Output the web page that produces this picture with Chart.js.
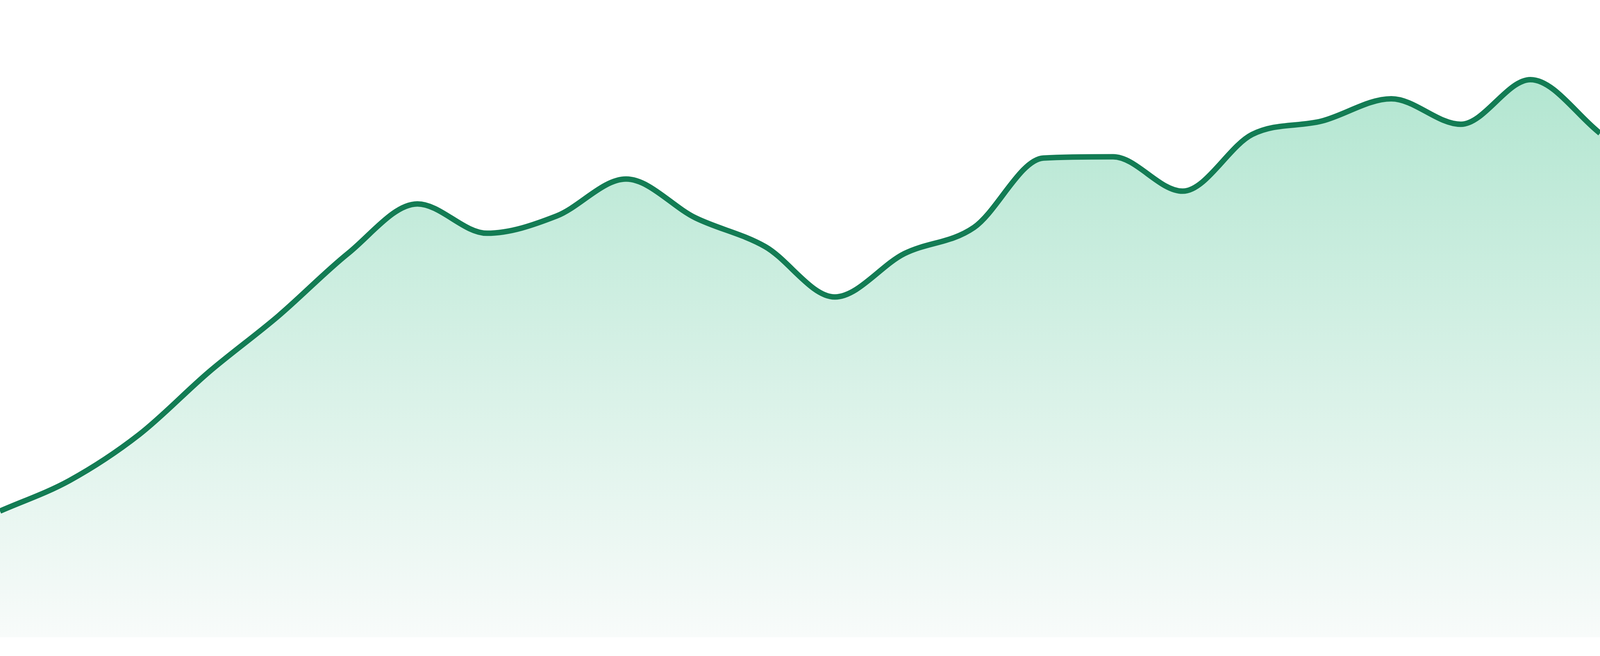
<!DOCTYPE html>
<html>
<head>
<meta charset="utf-8">
<script src="https://cdn.jsdelivr.net/npm/chart.js@4/dist/chart.umd.min.js"></script>
<style>
    html, body { margin: 0; padding: 0; background: #ffffff; overflow: hidden; }
    .wrap { position: relative; width: 100vw; height: 100vh; }
</style>
</head>
<body>
<div class="wrap"><canvas id="trend"></canvas></div>
<script>
const labels = ['D1', 'D2', 'D3', 'D4', 'D5', 'D6', 'D7', 'D8', 'D9', 'D10', 'D11', 'D12',
                'D13', 'D14', 'D15', 'D16', 'D17', 'D18', 'D19', 'D20', 'D21', 'D22', 'D23', 'D24'];
const values = [19.8, 24.6, 31.8, 41.6, 50.4, 60.2, 68.0, 63.4, 66.1, 71.9, 65.8, 61.3,
                53.4, 60.2, 64.3, 75.2, 75.4, 70.0, 78.9, 81.0, 84.5, 80.5, 87.5, 79.1];
const yMin = 0;
const yMax = 100;

const lineColor = '#137c54';

// vertical fade from mint under the line to almost white at the baseline
function areaGradient(context) {
    const chart = context.chart;
    const area = chart.chartArea;
    if (!area) return 'rgba(180, 230, 210, 0.6)';
    const g = chart.ctx.createLinearGradient(0, area.top, 0, area.bottom);
    g.addColorStop(0, '#a9e3cb');
    g.addColorStop(1, '#f8fbfa');
    return g;
}

const ctx = document.getElementById('trend');
const chart = new Chart(ctx, {
    type: 'line',
    data: {
        labels: labels,
        datasets: [{
            data: values,
            borderColor: lineColor,
            borderWidth: 14,
            backgroundColor: areaGradient,
            fill: 'start',
            pointRadius: 0,
            pointHoverRadius: 0,
            cubicInterpolationMode: 'monotone'
        }]
    },
    options: {
        responsive: true,
        maintainAspectRatio: false,
        animation: false,
        layout: {
            padding: { left: 0, right: 0, top: 0, bottom: 48 }
        },
        plugins: {
            legend: { display: false },
            tooltip: { enabled: false }
        },
        scales: {
            x: { display: false },
            y: { display: false, min: yMin, max: yMax }
        }
    }
});
</script>
</body>
</html>
